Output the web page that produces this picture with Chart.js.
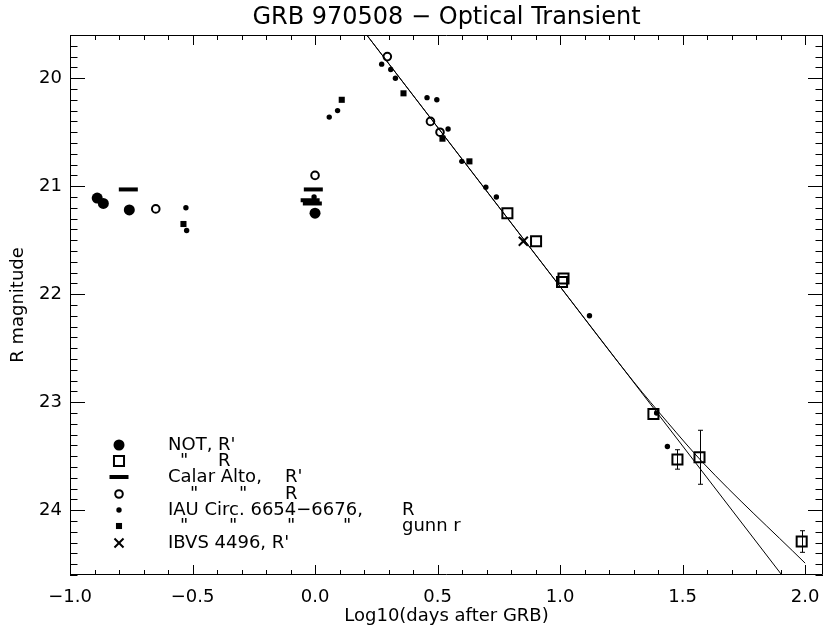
<!DOCTYPE html>
<html>
<head>
<meta charset="utf-8">
<script src="https://cdn.jsdelivr.net/npm/chart.js@4.4.1/dist/chart.umd.min.js"></script>
<style>
  html, body { margin: 0; padding: 0; background: #fff; }
  canvas { display: block; }
</style>
</head>
<body>
<canvas id="lc" width="824" height="635"></canvas>
<script>
// GRB 970508 optical transient: R magnitude against log10(days after the burst)

// NOT, R' (filled circles)
const notRpX = [-0.889, -0.864, -0.758, 0.000];
const notRpY = [21.11, 21.16, 21.22, 21.25];
// NOT, R (open squares) with 1-sigma errors
const notRX = [0.785, 0.902, 1.014, 1.008, 1.381, 1.479, 1.569, 1.986];
const notRY = [21.25, 21.51, 21.855, 21.887, 23.11, 23.53, 23.51, 24.29];
const notRErr = [0, 0, 0, 0, 0, 0.09, 0.25, 0.10];
// Calar Alto, R' (bars)
const calarRpX = [-0.762, -0.007, -0.020, -0.011];
const calarRpY = [21.03, 21.03, 21.13, 21.16];
// Calar Alto, R (open circles)
const calarRX = [-0.650, 0.000, 0.295, 0.471, 0.510];
const calarRY = [21.21, 20.90, 19.80, 20.40, 20.50];
// IAU Circ. 6654-6676, R (dots)
const iauRX = [-0.527, -0.524, -0.004, 0.058, 0.092, 0.272, 0.309, 0.328, 0.457, 0.497, 0.543, 0.599, 0.697, 0.740, 1.120, 1.394, 1.438];
const iauRY = [21.20, 21.41, 21.10, 20.36, 20.30, 19.87, 19.92, 20.00, 20.18, 20.20, 20.47, 20.77, 21.01, 21.10, 22.20, 23.10, 23.41];
// IAU Circ., gunn r (small filled squares)
const iauGunnX = [-0.537, 0.109, 0.361, 0.520, 0.630];
const iauGunnY = [21.35, 20.20, 20.14, 20.56, 20.77];
// IBVS 4496, R' (cross)
const ibvsX = [0.850];
const ibvsY = [21.51];
// decay fits: single power law and the flattening curve
const fitPowerX = [0.211, 1.905];
const fitPowerY = [19.60, 24.60];
const fitCurveX = [0.211, 1.000, 1.300, 1.440, 1.582, 2.000];
const fitCurveY = [19.60, 21.93, 22.81, 23.19, 23.557, 24.49];

const xTickValues = [-1.0, -0.5, 0.0, 0.5, 1.0, 1.5, 2.0];
const yTickValues = [20, 21, 22, 23, 24];

const FONT = 'DejaVu Sans';
const zip = (xs, ys) => xs.map((v, i) => ({ x: v, y: ys[i] }));
const minus = s => s.replace('-', '\u2212');

Chart.defaults.color = '#000';
Chart.defaults.font.family = FONT;

const markers = {
  notRp:  { pointStyle: 'circle',   radius: 5.5, borderWidth: 0, fill: '#000' },
  notR:   { pointStyle: 'rect',     radius: 7.1, borderWidth: 2, fill: 'rgba(0,0,0,0)' },
  calRp:  { pointStyle: 'line',     radius: 9.5, borderWidth: 4, fill: '#000' },
  calR:   { pointStyle: 'circle',   radius: 3.8, borderWidth: 2, fill: 'rgba(0,0,0,0)' },
  iauR:   { pointStyle: 'circle',   radius: 2.7, borderWidth: 0, fill: '#000' },
  iauG:   { pointStyle: 'rect',     radius: 4.3, borderWidth: 0, fill: '#000' },
  ibvs:   { pointStyle: 'crossRot', radius: 6.4, borderWidth: 2, fill: '#000' }
};

function pointSet(label, data, m) {
  return {
    label, data, showLine: false,
    pointStyle: m.pointStyle, pointRadius: m.radius, pointHoverRadius: m.radius,
    pointBorderWidth: m.borderWidth, pointBackgroundColor: m.fill,
    pointBorderColor: '#000', borderColor: '#000', backgroundColor: m.fill
  };
}

function lineSet(label, data) {
  return {
    label, data, showLine: true, pointRadius: 0, borderWidth: 1,
    borderColor: '#000', cubicInterpolationMode: 'monotone', fill: false
  };
}

// inward ticks on all four sides plus the box frame
const frameTicks = {
  id: 'frameTicks',
  afterDatasetsDraw(chart) {
    const { ctx, chartArea: a, scales: { x, y } } = chart;
    ctx.save();
    ctx.strokeStyle = '#000';
    ctx.lineWidth = 1;
    ctx.beginPath();
    ctx.rect(a.left + 0.5, a.top + 0.5, a.right - a.left - 1, a.bottom - a.top - 1);
    const xMaj = 10, xMin = 5, yMaj = 15, yMin = 7.5;
    for (let k = Math.round(x.min * 10); k <= Math.floor(x.max * 10 + 1e-6); k++) {
      const px = Math.round(x.getPixelForValue(k / 10)) + 0.5;
      const len = k % 5 === 0 ? xMaj : xMin;
      ctx.moveTo(px, a.bottom); ctx.lineTo(px, a.bottom - len);
      ctx.moveTo(px, a.top); ctx.lineTo(px, a.top + len);
    }
    for (let k = Math.ceil(y.min * 10 - 1e-6); k <= Math.floor(y.max * 10 + 1e-6); k++) {
      const py = Math.round(y.getPixelForValue(k / 10)) + 0.5;
      const len = k % 10 === 0 ? yMaj : yMin;
      ctx.moveTo(a.left, py); ctx.lineTo(a.left + len, py);
      ctx.moveTo(a.right, py); ctx.lineTo(a.right - len, py);
    }
    ctx.stroke();

    // error bars on the NOT R points
    ctx.beginPath();
    notRX.forEach((v, i) => {
      const e = notRErr[i];
      if (!e) return;
      const px = Math.round(x.getPixelForValue(v)) + 0.5;
      const top = y.getPixelForValue(notRY[i] - e);
      const bot = y.getPixelForValue(notRY[i] + e);
      ctx.moveTo(px, top); ctx.lineTo(px, bot);
      ctx.moveTo(px - 2.5, top); ctx.lineTo(px + 2.5, top);
      ctx.moveTo(px - 2.5, bot); ctx.lineTo(px + 2.5, bot);
    });
    ctx.stroke();
    ctx.restore();
  }
};

// symbol key in the lower left of the plot
const keyRows = [
  { m: 'notRp', parts: [['NOT,', 168], ["R'", 218]] },
  { m: 'notR',  parts: [['"', 180], ['R', 218]] },
  { m: 'calRp', parts: [['Calar Alto,', 168], ["R'", 285]] },
  { m: 'calR',  parts: [['"', 190], ['"', 239], ['R', 285]] },
  { m: 'iauR',  parts: [['IAU Circ. 6654\u22126676,', 168], ['R', 402]] },
  { m: 'iauG',  parts: [['"', 180], ['"', 229], ['"', 287], ['"', 343], ['gunn r', 402]] },
  { m: 'ibvs',  parts: [["IBVS 4496, R'", 168]] }
];
const keyRowY = [445, 461, 477, 494, 510, 526, 543];
const symbolKey = {
  id: 'symbolKey',
  afterDraw(chart) {
    const ctx = chart.ctx;
    ctx.save();
    ctx.font = `18px "${FONT}"`;
    ctx.textBaseline = 'middle';
    ctx.textAlign = 'left';
    keyRows.forEach((row, i) => {
      const m = markers[row.m];
      const yy = keyRowY[i];
      ctx.fillStyle = m.fill;
      ctx.strokeStyle = '#000';
      ctx.lineWidth = m.borderWidth;
      Chart.helpers.drawPoint(ctx, { pointStyle: m.pointStyle, radius: m.radius, rotation: 0, borderWidth: m.borderWidth }, 119, yy);
      ctx.fillStyle = '#000';
      row.parts.forEach(([t, px]) => ctx.fillText(t, px, yy));
    });
    ctx.restore();
  }
};

new Chart(document.getElementById('lc'), {
  type: 'scatter',
  data: {
    datasets: [
      pointSet("NOT, R'", zip(notRpX, notRpY), markers.notRp),
      pointSet('NOT, R', zip(notRX, notRY), markers.notR),
      pointSet("Calar Alto, R'", zip(calarRpX, calarRpY), markers.calRp),
      pointSet('Calar Alto, R', zip(calarRX, calarRY), markers.calR),
      pointSet('IAU Circ., R', zip(iauRX, iauRY), markers.iauR),
      pointSet('IAU Circ., gunn r', zip(iauGunnX, iauGunnY), markers.iauG),
      pointSet("IBVS 4496, R'", zip(ibvsX, ibvsY), markers.ibvs),
      lineSet('power law', zip(fitPowerX, fitPowerY)),
      lineSet('curved fit', zip(fitCurveX, fitCurveY))
    ]
  },
  options: {
    responsive: false,
    animation: false,
    devicePixelRatio: 1,
    layout: { autoPadding: false, padding: { left: 0, right: 1, top: 0, bottom: 0 } },
    plugins: {
      legend: { display: false },
      tooltip: { enabled: false },
      title: {
        display: true,
        fullSize: false,
        text: 'GRB 970508 \u2212 Optical Transient',
        font: { family: FONT, size: 24, weight: 'normal', lineHeight: 1.2 },
        color: '#000',
        padding: { top: 3, bottom: 3.2 }
      }
    },
    scales: {
      x: {
        type: 'linear', min: -1, max: 2.073,
        grid: { display: false, drawTicks: false },
        border: { display: false },
        afterBuildTicks: s => { s.ticks = xTickValues.map(v => ({ value: v })); },
        ticks: {
          padding: 12, font: { family: FONT, size: 18 },
          callback: v => minus(Number(v).toFixed(1))
        },
        title: {
          display: true, text: 'Log10(days after GRB)',
          font: { family: FONT, size: 18, lineHeight: 1.2 },
          padding: { top: 0, bottom: 8 }
        },
        afterFit: s => { s.height = 60; s.paddingLeft = 0; s.paddingRight = 0; }
      },
      y: {
        type: 'linear', min: 19.6, max: 24.6, reverse: true,
        grid: { display: false, drawTicks: false },
        border: { display: false },
        afterBuildTicks: s => { s.ticks = yTickValues.map(v => ({ value: v })); },
        ticks: {
          padding: 8, font: { family: FONT, size: 18 },
          callback: v => String(v)
        },
        title: {
          display: true, text: 'R magnitude',
          font: { family: FONT, size: 18, lineHeight: 1.2 },
          padding: { top: 8, bottom: 0 }
        },
        afterFit: s => { s.width = 70; s.paddingTop = 0; s.paddingBottom = 0; }
      }
    }
  },
  plugins: [frameTicks, symbolKey]
});
</script>
</body>
</html>
